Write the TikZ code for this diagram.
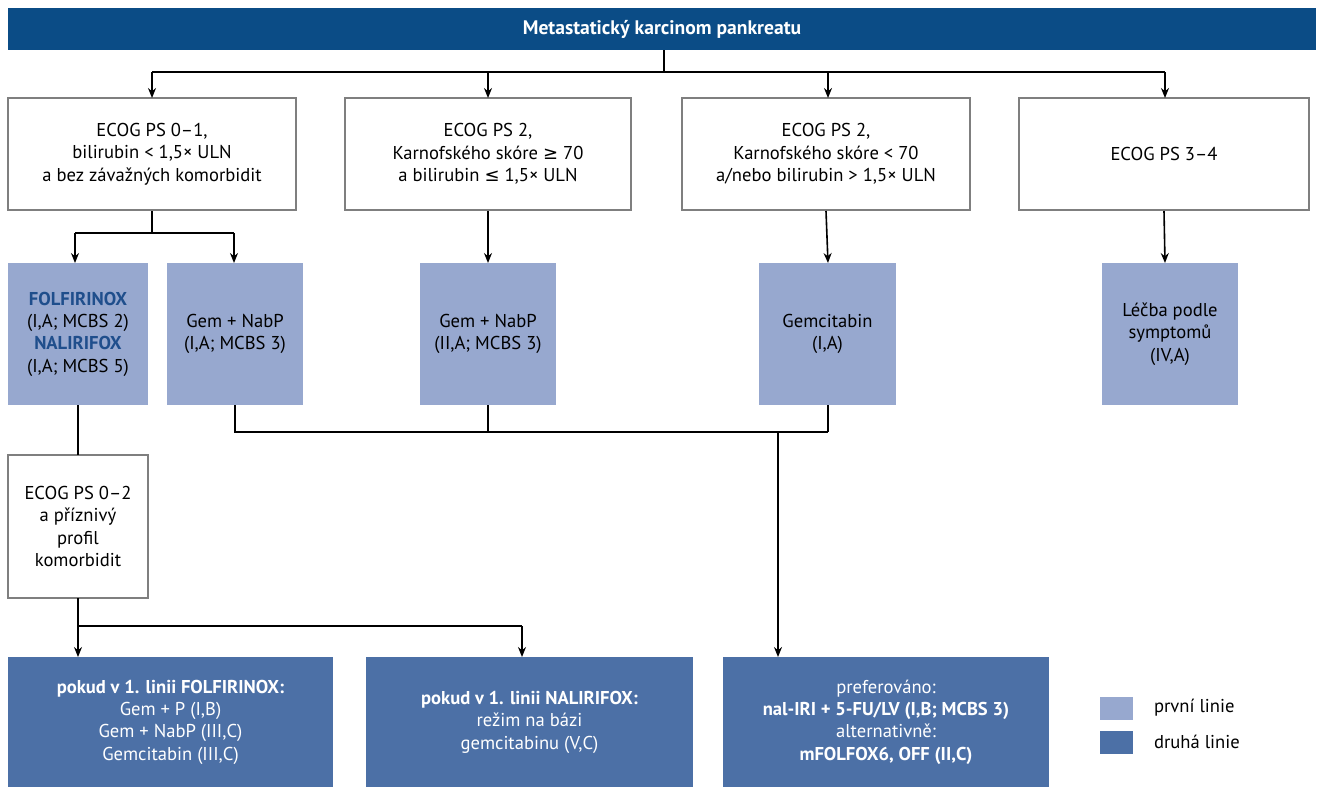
\documentclass[tikz,border=0pt]{standalone}
\usepackage{fontspec}
\setmainfont{PT Sans}
\newfontfamily\symf{DejaVu Sans}
\usetikzlibrary{arrows.meta}
\definecolor{tit}{HTML}{0B4C86}
\definecolor{lb}{HTML}{97A8CF}
\definecolor{db}{HTML}{4C70A6}
\definecolor{bd}{HTML}{7F7F7F}
\definecolor{ft}{HTML}{1F4E8C}
\newcommand{\mygeq}{{\symf\small ≥}}
\newcommand{\myleq}{{\symf\small ≤}}
\begin{document}
\begin{tikzpicture}[x=0.5pt,y=-0.5pt,font=\fontsize{9.3}{11.2}\selectfont,
 wb/.style={draw=bd,line width=1pt,fill=white,align=center,inner sep=0},
 lbx/.style={fill=lb,align=center,inner sep=0},
 dbx/.style={fill=db,align=center,inner sep=0,text=white},
 ln/.style={line width=0.8pt},
 ar/.style={ln,-{Stealth[length=5pt,width=4pt]}}]
\useasboundingbox (0,0) rectangle (1323,800);
\newcommand{\bx}[6]{\node[#1,minimum width={(#4-#2)*0.5pt},minimum height={(#5-#3)*0.5pt}] (#6) at ({(#2+#4)/2},{(#3+#5)/2}) {};}
\bx{fill=tit,inner sep=0}{8}{8}{1316}{50}{t}
\node[text=white,font=\fontsize{9.8}{11}\selectfont\bfseries] at (t) {Metastatický karcinom pankreatu};
\bx{wb}{8}{98}{296}{210}{a1}
\node[align=center] at (a1) {ECOG PS 0–1,\\bilirubin < 1,5× ULN\\a bez závažných komorbidit};
\bx{wb}{345}{98}{631}{210}{a2}
\node[align=center] at (a2) {ECOG PS 2,\\Karnofského skóre \mygeq{} 70\\a bilirubin \myleq{} 1,5× ULN};
\bx{wb}{682}{98}{970}{210}{a3}
\node[align=center] at (a3) {ECOG PS 2,\\Karnofského skóre < 70\\a/nebo bilirubin > 1,5× ULN};
\bx{wb}{1019}{98}{1309}{210}{a4}
\node at (a4) {ECOG PS 3–4};
\bx{lbx}{8}{263}{148}{405}{b1}
\node[align=center] at (b1) {\textcolor{ft}{\bfseries FOLFIRINOX}\\(I,A; MCBS 2)\\\textcolor{ft}{\bfseries NALIRIFOX}\\(I,A; MCBS 5)};
\bx{lbx}{167}{263}{303}{405}{b2}
\node[align=center] at (b2) {Gem + NabP\\(I,A; MCBS 3)};
\bx{lbx}{420}{263}{556}{405}{b3}
\node[align=center] at (b3) {Gem + NabP\\(II,A; MCBS 3)};
\bx{lbx}{759}{263}{896}{405}{b4}
\node[align=center] at (b4) {Gemcitabin\\(I,A)};
\bx{lbx}{1102}{263}{1238}{405}{b5}
\node[align=center] at (b5) {Léčba podle\\symptomů\\(IV,A)};
\bx{wb}{8}{455}{148}{598}{c1}
\node[align=center] at (c1) {ECOG PS 0–2\\a příznivý\\profil\\komorbidit};
\bx{dbx}{8}{657}{333}{787}{d1}
\node[align=center,text=white] at (d1) {\bfseries pokud v 1. linii FOLFIRINOX:\\Gem + P (I,B)\\Gem + NabP (III,C)\\Gemcitabin (III,C)};
\bx{dbx}{366}{657}{693}{787}{d2}
\node[align=center,text=white] at (d2) {\bfseries pokud v 1. linii NALIRIFOX:\\režim na bázi\\gemcitabinu (V,C)};
\bx{dbx}{723}{657}{1049}{787}{d3}
\node[align=center,text=white] at (d3) {preferováno:\\\bfseries nal-IRI + 5-FU/LV (I,B; MCBS 3)\\alternativně:\\\bfseries mFOLFOX6, OFF (II,C)};
\bx{lbx}{1100}{697}{1133}{720}{l1}
\bx{dbx}{1100}{731}{1133}{754}{l2}
\node[anchor=west] at (1147,708) {první linie};
\node[anchor=west] at (1147,742) {druhá linie};
% connectors
\coordinate (j0) at (664,72);
\draw[ln] (t.south -| j0) -- (j0);
\draw[ln] (152,72) -- (1165,72);
\draw[ar] (152,72) -- (152,98);
\draw[ar] (488,72) -- (488,98);
\draw[ar] (828,72) -- (828,98);
\draw[ar] (1165,72) -- (1165,98);
\draw[ln] (a1.south) -- (152,233);
\draw[ln] (75,233) -- (234,233);
\draw[ar] (75,233) -- (75,263);
\draw[ar] (234,233) -- (234,263);
\draw[ar] (a2.south) -- (488,263);
\draw[ar] (a3.south) -- (828,263);
\draw[ar] (a4.south) -- (1165,263);
\draw[ln] (235,405) -- (235,432) -- (828,432);
\draw[ln] (488,405) -- (488,432);
\draw[ln] (828,405) -- (828,432);
\draw[ar] (778,432) -- (778,657);
\draw[ln] (78,405) -- (78,455);
\draw[ln] (78,598) -- (78,626) -- (522,626);
\draw[ar] (78,626) -- (78,657);
\draw[ar] (522,626) -- (522,657);
\end{tikzpicture}
\end{document}
